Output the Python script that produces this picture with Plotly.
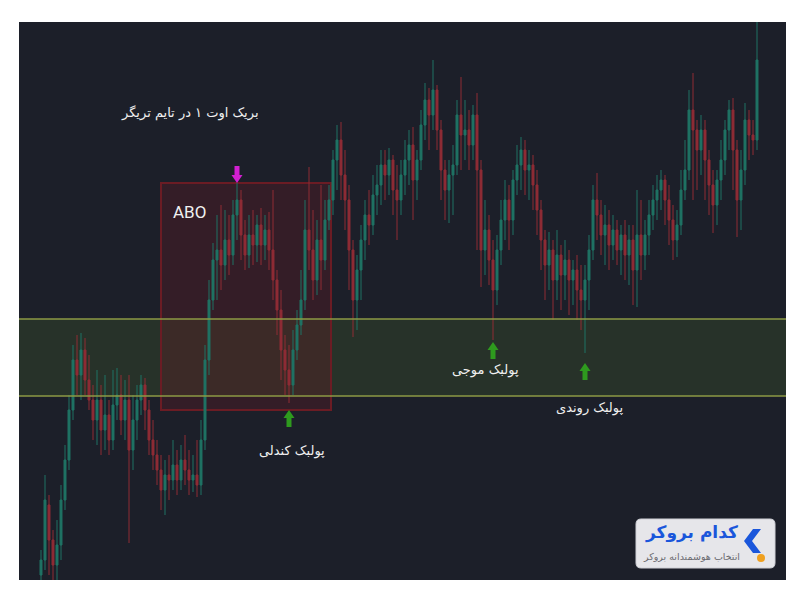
import plotly.graph_objects as go

# ---------------- data (price units; candles indexed 0..179) ----------------
opens = [5, 20, 75, 40, 15, 35, 80, 120, 170, 220,
         205, 230, 200, 180, 160, 180, 150, 165, 140, 175,
         185, 160, 180, 130, 160, 180, 195, 170, 140, 125,
         110, 90, 105, 100, 115, 100, 120, 110, 100, 105,
         95, 140, 220, 280, 320, 330, 315, 340, 325, 365,
         380, 345, 325, 345, 335, 355, 335, 350, 330, 300,
         270, 230, 210, 195, 230, 255, 280, 350, 330, 300,
         340, 320, 360, 380, 420, 440, 405, 380, 330, 280,
         310, 340, 365, 355, 385, 395, 415, 405, 420, 390,
         380, 405, 420, 435, 400, 420, 455, 480, 465, 490,
         450, 410, 390, 405, 415, 465, 445, 450, 435, 465,
         410, 330, 350, 320, 290, 330, 360, 380, 360, 400,
         415, 430, 410, 415, 395, 370, 340, 315, 330, 300,
         325, 305, 320, 300, 310, 290, 280, 300, 330, 380,
         365, 345, 355, 335, 350, 330, 345, 325, 340, 310,
         345, 325, 345, 365, 380, 390, 400, 380, 360, 340,
         355, 390, 410, 470, 450, 430, 450, 420, 395, 375,
         400, 420, 450, 470, 430, 380, 410, 460, 445, 440]

closes = [20, 80, 40, 15, 35, 80, 120, 170, 220, 205,
          230, 200, 180, 160, 180, 150, 165, 140, 175, 185,
          160, 180, 130, 160, 180, 195, 170, 140, 125, 110,
          90, 105, 100, 115, 100, 120, 110, 100, 105, 95,
          140, 220, 280, 320, 330, 315, 340, 325, 365, 380,
          345, 325, 345, 335, 355, 335, 350, 330, 300, 270,
          230, 210, 195, 230, 255, 280, 350, 330, 300, 340,
          320, 360, 380, 420, 440, 405, 380, 330, 280, 310,
          340, 365, 355, 385, 395, 415, 405, 420, 390, 380,
          405, 420, 435, 400, 420, 455, 480, 465, 490, 450,
          410, 390, 405, 415, 465, 445, 450, 435, 465, 410,
          330, 350, 320, 290, 330, 360, 380, 360, 400, 415,
          430, 410, 415, 395, 370, 340, 315, 330, 300, 325,
          305, 320, 300, 310, 290, 280, 300, 330, 380, 365,
          345, 355, 335, 350, 330, 345, 325, 340, 310, 345,
          325, 345, 365, 380, 390, 400, 380, 360, 340, 355,
          390, 410, 470, 450, 430, 450, 420, 395, 375, 400,
          420, 450, 470, 430, 380, 410, 460, 445, 440, 520]

highs = [30, 105, 85, 50, 60, 95, 135, 185, 235, 245,
         247, 242, 225, 195, 210, 195, 205, 180, 210, 212,
         205, 200, 205, 185, 195, 205, 202, 180, 160, 140,
         125, 120, 125, 140, 130, 135, 145, 130, 125, 140,
         160, 235, 300, 337, 365, 375, 370, 365, 380, 397,
         390, 360, 365, 370, 365, 372, 365, 368, 390, 310,
         290, 245, 235, 250, 270, 310, 380, 413, 370, 360,
         395, 380, 395, 430, 455, 458, 430, 395, 340, 325,
         355, 380, 390, 405, 415, 430, 430, 432, 425, 415,
         420, 440, 450, 453, 430, 470, 497, 492, 520, 495,
         460, 420, 420, 435, 480, 503, 480, 470, 475, 487,
         420, 380, 365, 340, 345, 380, 400, 395, 410, 435,
         443, 440, 430, 425, 410, 380, 350, 348, 340, 350,
         335, 340, 330, 320, 325, 315, 315, 345, 395, 407,
         380, 375, 370, 365, 360, 355, 360, 355, 355, 390,
         380, 360, 380, 395, 405, 410, 405, 395, 375, 370,
         410, 440, 490, 507, 460, 465, 460, 430, 410, 410,
         440, 460, 480, 482, 440, 430, 477, 470, 460, 570]

lows = [-10, 10, 5, -5, -5, 20, 70, 110, 160, 185,
        180, 185, 170, 140, 135, 125, 130, 125, 130, 160,
        145, 140, 37, 110, 140, 165, 150, 125, 110, 95,
        70, 65, 80, 90, 85, 90, 95, 85, 88, 83,
        85, 130, 205, 270, 280, 290, 300, 305, 315, 340,
        320, 310, 312, 315, 318, 315, 320, 310, 280, 245,
        200, 185, 177, 185, 220, 245, 270, 310, 280, 285,
        290, 310, 350, 365, 390, 380, 350, 290, 243, 250,
        280, 320, 335, 345, 365, 375, 380, 385, 365, 340,
        365, 385, 395, 360, 380, 410, 440, 430, 450, 430,
        380, 360, 357, 365, 405, 410, 420, 410, 420, 330,
        293, 305, 295, 240, 275, 315, 340, 330, 345, 385,
        390, 385, 380, 370, 345, 310, 280, 290, 260, 280,
        270, 280, 265, 275, 260, 250, 227, 270, 320, 340,
        325, 315, 310, 320, 315, 305, 300, 295, 275, 273,
        300, 310, 325, 350, 360, 370, 355, 335, 320, 323,
        345, 380, 400, 380, 390, 405, 380, 365, 347, 355,
        380, 405, 430, 390, 343, 350, 395, 420, 425, 430]

# zones
band_low, band_high = 184, 261          # green support band
abo_x0, abo_x1 = 30, 72.5               # ABO box (candle index)
abo_low, abo_high = 170, 397            # ABO box price range

# marked candles
abo_peak_idx = 49
pullbacks = [(62, "پولبک کندلی"), (113, "پولبک موجی"), (136, "پولبک روندی")]

idx = list(range(len(closes)))

BG = "#1c1f29"
GREEN = "#1f7364"
RED = "#8f2c35"
FONT = "DejaVu Sans"

fig = go.Figure(go.Candlestick(
    x=idx, open=opens, high=highs, low=lows, close=closes,
    increasing=dict(line=dict(color=GREEN, width=1), fillcolor=GREEN),
    decreasing=dict(line=dict(color=RED, width=1), fillcolor=RED),
    whiskerwidth=0, showlegend=False, hoverinfo="skip"))

L, R, T, B = 19, 14, 22, 20
PW, PH = 800 - L - R, 600 - T - B
XR = [-5.5, 186.25]
YR = [0, 558]
XU = (XR[1] - XR[0]) / PW   # x data units per pixel
YU = (YR[1] - YR[0]) / PH   # y data units per pixel


def px(x):
    return (x - L) / PW


def py(y):
    return (600 - B - y) / PH


def block_arrow(x, y, direction, color):
    """Block arrow whose tip is at data point (x, y); sizes in pixels."""
    s = 1 if direction == "up" else -1
    hw, hh, sw, total = 5.5, 8, 2.5, 17
    pts = [(0, 0), (hw, -hh), (sw, -hh), (sw, -total), (-sw, -total), (-sw, -hh), (-hw, -hh)]
    p = "M " + " L ".join(f"{x + dx * XU},{y + s * dy * YU}" for dx, dy in pts) + " Z"
    return dict(type="path", xref="x", yref="y", path=p, fillcolor=color, line=dict(width=0))


shapes = [
    dict(type="rect", xref="paper", yref="y", x0=0, x1=1, y0=band_low, y1=band_high,
         fillcolor="rgba(80,120,40,0.22)", line=dict(width=0), layer="below"),
    dict(type="rect", xref="x", yref="y", x0=abo_x0, x1=abo_x1, y0=abo_low, y1=abo_high,
         fillcolor="rgba(110,25,35,0.30)", line=dict(color="#6b1c24", width=2), layer="below"),
    dict(type="line", xref="paper", yref="y", x0=0, x1=1, y0=band_low, y1=band_low,
         line=dict(color="#8d9a45", width=1.5)),
    dict(type="line", xref="paper", yref="y", x0=0, x1=1, y0=band_high, y1=band_high,
         line=dict(color="#8d9a45", width=1.5)),
]

shapes.append(block_arrow(abo_peak_idx, highs[abo_peak_idx], "down", "#d21fd2"))

# logo box (rounded)
bx0, bx1, by0, by1, r = 636, 775, 519, 568, 5
path = (f"M {px(bx0 + r)},{py(by0)} L {px(bx1 - r)},{py(by0)} "
        f"Q {px(bx1)},{py(by0)} {px(bx1)},{py(by0 + r)} L {px(bx1)},{py(by1 - r)} "
        f"Q {px(bx1)},{py(by1)} {px(bx1 - r)},{py(by1)} L {px(bx0 + r)},{py(by1)} "
        f"Q {px(bx0)},{py(by1)} {px(bx0)},{py(by1 - r)} L {px(bx0)},{py(by0 + r)} "
        f"Q {px(bx0)},{py(by0)} {px(bx0 + r)},{py(by0)} Z")
shapes.append(dict(type="path", xref="paper", yref="paper", path=path,
                   fillcolor="#e6e6ea", line=dict(color="#cfd0d6", width=1)))
chev = [(753, 529), (761, 529), (752, 541), (761, 553), (753, 553), (744, 541)]
cpath = "M " + " L ".join(f"{px(a)},{py(b)}" for a, b in chev) + " Z"
shapes.append(dict(type="path", xref="paper", yref="paper", path=cpath,
                   fillcolor="#1a56db", line=dict(width=0)))
shapes.append(dict(type="circle", xref="paper", yref="paper",
                   x0=px(757), x1=px(765), y0=py(562), y1=py(554),
                   fillcolor="#efa020", line=dict(width=0)))

annotations = [
    dict(xref="x", yref="y", x=37.25, y=467, text="بریک اوت ۱ در تایم تریگر",
         showarrow=False, font=dict(family=FONT, size=13, color="#f0f0f0")),
    dict(xref="x", yref="y", x=abo_x0 + 2.5, y=368, text="ABO", xanchor="left",
         showarrow=False, font=dict(family="Roboto", size=17, color="#f0f0f0")),
    # logo texts
    dict(xref="paper", yref="paper", x=px(691), y=py(532), text="<b>کدام بروکر</b>",
         xanchor="center", yanchor="middle",
         showarrow=False, font=dict(family=FONT, size=17, color="#1a56db")),
    dict(xref="paper", yref="paper", x=px(691), y=py(556), text="انتخاب هوشمندانه بروکر",
         xanchor="center", yanchor="middle",
         showarrow=False, font=dict(family=FONT, size=9.5, color="#6a6a70")),
]

label_offsets = {62: (0.75, -48), 113: (-2, -30), 136: (1.25, -55)}
arrow_gap = {62: 7, 113: 2, 136: 10}
for i, label in pullbacks:
    shapes.append(block_arrow(i, lows[i] - arrow_gap[i], "up", "#2e9a1e"))
    dx, dy = label_offsets[i]
    annotations.append(dict(xref="x", yref="y", x=i + dx, y=lows[i] + dy, text=label,
                            showarrow=False, font=dict(family=FONT, size=13, color="#f0f0f0")))

fig.update_layout(
    width=800, height=600,
    margin=dict(l=L, r=R, t=T, b=B, pad=0),
    paper_bgcolor="white", plot_bgcolor=BG,
    xaxis=dict(range=XR, visible=False, rangeslider=dict(visible=False)),
    yaxis=dict(range=YR, visible=False),
    shapes=shapes, annotations=annotations,
    showlegend=False,
)

fig.write_html("out.html")
